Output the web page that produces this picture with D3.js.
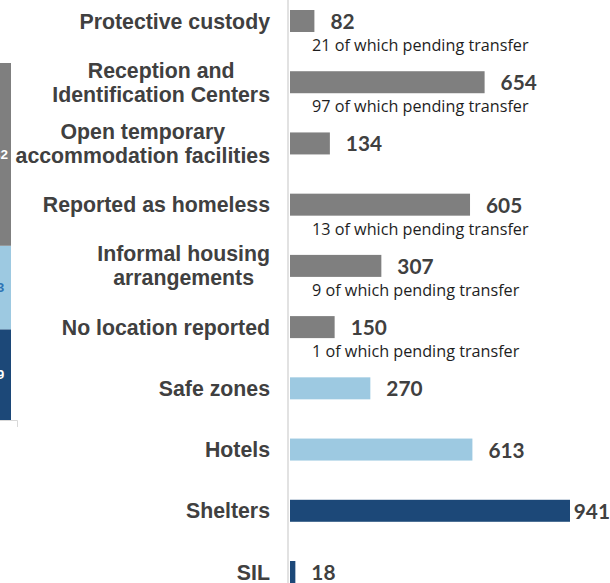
<!DOCTYPE html>
<html>
<head>
<meta charset="utf-8">
<script src="https://cdn.jsdelivr.net/npm/d3@7"></script>
<style>
html,body{margin:0;padding:0;background:#fff;overflow:hidden;}
svg{display:block;}
</style>
</head>
<body>
<svg id="chart" width="610" height="583"></svg>
<script>
// ---- data ----
const categories = [
  "Protective custody",
  "Reception and|Identification Centers",
  "Open temporary|accommodation facilities",
  "Reported as homeless",
  "Informal housing|arrangements",
  "No location reported",
  "Safe zones",
  "Hotels",
  "Shelters",
  "SIL"
];
const values  = [82, 654, 134, 605, 307, 150, 270, 613, 941, 18];
const pending = [21, 97, null, 13, 9, 1, null, null, null, null];
const groups  = ["other","other","other","other","other","other","emergency","emergency","long","long"];
const groupOrder = ["long","emergency","other"];   // bottom -> top in left stack
const groupColors = {other:"#7f7f7f", emergency:"#9dc9e1", long:"#1c4878"};
const stackLabelColors = {other:"#ffffff", emergency:"#2e74b5", long:"#ffffff"};

const svg = d3.select("#chart");

// ---- right: horizontal bar chart ----
const x = d3.scaleLinear().domain([0, 941]).range([290, 570]);
const y = d3.scalePoint().domain(categories).range([21, 572]);
const barH = 22;

// axis line
svg.append("line")
  .attr("x1", 288).attr("x2", 288).attr("y1", 0).attr("y2", 583)
  .attr("stroke", "#d9d9d9").attr("stroke-width", 1.5);

const rows = categories.map((c, i) => ({cat: c, value: values[i], pending: pending[i], group: groups[i]}));

svg.append("g").selectAll("rect").data(rows).join("rect")
  .attr("x", x(0))
  .attr("y", d => y(d.cat) - barH / 2)
  .attr("width", d => x(d.value) - x(0))
  .attr("height", barH)
  .attr("fill", d => groupColors[d.group]);

// category labels
const catG = svg.append("g")
  .attr("font-family", "'Liberation Sans', Arial, sans-serif")
  .attr("font-weight", "bold")
  .attr("font-size", 21.3)
  .attr("fill", "#404040");
rows.forEach(d => {
  const lines = d.cat.split("|");
  const cy = y(d.cat);
  if (lines.length === 1) {
    catG.append("text").attr("x", 270).attr("y", cy + 7.5)
      .attr("text-anchor", "end").text(lines[0]);
  } else {
    const t = catG.append("text").attr("text-anchor", "middle");
    const widths = lines.map(l => {
      const m = catG.append("text").text(l);
      const w = m.node().getComputedTextLength();
      m.remove();
      return w;
    });
    const maxW = d3.max(widths);
    const cx = 270 - maxW / 2;
    lines.forEach((l, k) => {
      t.append("tspan").attr("x", cx).attr("y", cy + 7.5 + (k - (lines.length - 1) / 2) * 24).text(l);
    });
  }
});

// value labels
const valG = svg.append("g")
  .attr("font-family", "Lato, 'Open Sans', sans-serif")
  .attr("font-weight", "bold")
  .attr("font-size", 20.8)
  .attr("fill", "#404040");
rows.forEach(d => {
  const t = valG.append("text").attr("y", y(d.cat) + 8).text(d.value);
  const w = t.node().getComputedTextLength();
  const lx = Math.min(x(d.value) + 16, 610 - w);
  t.attr("x", lx);
});

// pending notes
svg.append("g")
  .attr("font-family", "'Open Sans', Lato, sans-serif")
  .attr("font-size", 16.2)
  .attr("fill", "#1e1e1e")
  .selectAll("text").data(rows.filter(d => d.pending != null)).join("text")
  .attr("x", 312)
  .attr("y", d => y(d.cat) + 30)
  .text(d => d.pending + " of which pending transfer");

// ---- left: stacked total bar (partially visible, cut by the frame) ----
const totals = groupOrder.map(g => ({group: g, total: d3.sum(rows.filter(r => r.group === g), r => r.value)}));
const grand = d3.sum(totals, t => t.total);
const ys = d3.scaleLinear().domain([0, grand]).range([420, 63]);
const xs = d3.scaleBand().domain(["Total"]).range([-31, 17]).paddingInner(0.25).paddingOuter(0.125);

let acc = 0;
const segs = totals.map(t => { const s = {group: t.group, total: t.total, y0: acc, y1: acc + t.total}; acc += t.total; return s; });

svg.append("g").selectAll("rect").data(segs).join("rect")
  .attr("x", xs("Total"))
  .attr("width", xs.bandwidth())
  .attr("y", d => ys(d.y1))
  .attr("height", d => ys(d.y0) - ys(d.y1))
  .attr("fill", d => groupColors[d.group]);

svg.append("g")
  .attr("font-family", "'Liberation Sans', Arial, sans-serif")
  .attr("font-weight", "bold")
  .attr("font-size", 13.5)
  .selectAll("text").data(segs).join("text")
  .attr("x", xs("Total") + xs.bandwidth() / 2)
  .attr("y", d => (ys(d.y0) + ys(d.y1)) / 2 + 4.5)
  .attr("text-anchor", "middle")
  .attr("fill", d => stackLabelColors[d.group])
  .text(d => d.total);

// left category axis baseline with tick at the end of the band range
const xEnd = xs.range()[1];
svg.append("path")
  .attr("d", `M-50,420.5H${xEnd + 0.5}V427`)
  .attr("fill", "none")
  .attr("stroke", "#d9d9d9")
  .attr("stroke-width", 1);
</script>
</body>
</html>
